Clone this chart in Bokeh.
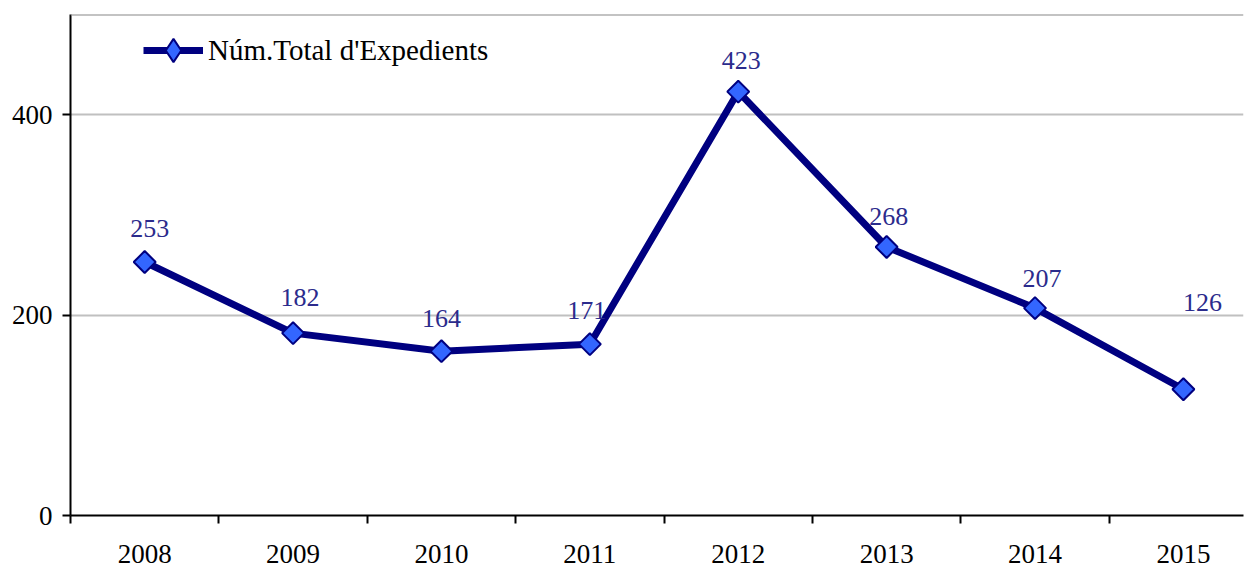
import numpy as np
from bokeh.plotting import figure
from bokeh.models import ColumnDataSource, FixedTicker, Span, Range1d, Legend, LegendItem
from bokeh.core.properties import value
from bokeh.embed import file_html
from bokeh.resources import INLINE

years = ["2008", "2009", "2010", "2011", "2012", "2013", "2014", "2015"]
totals = [253, 182, 164, 171, 423, 268, 207, 126]
series_name = "Núm.Total d'Expedients"
y_ticks = [0, 200, 400]

# label placement offsets in pixels (styling)
label_dx = [5, 7, 0, -3, 3, 2, 7, 19]
label_dy = [-33, -36, -33, -34, -31, -30, -30, -87]

FONT = "Liberation Serif"
LINE = "#000080"
FILL = "#3366FF"
TEXTC = "#2B2B8C"

xs = list(range(len(years)))
src = ColumnDataSource(dict(x=xs, y=totals, lab=[str(v) for v in totals],
                            dx=label_dx, dy=label_dy,
                            ang=[np.pi / 4] * len(years)))

p = figure(width=1244, height=568, output_backend="svg", toolbar_location=None,
           x_range=Range1d(-0.5, 7.405), y_range=Range1d(0, 500),
           min_border_left=70, min_border_right=1, min_border_top=14, min_border_bottom=53)
p.outline_line_color = None
p.background_fill_color = "white"
p.border_fill_color = "white"

line_r = p.line("x", "y", source=src, line_color=LINE, line_width=7)
p.scatter("x", "y", source=src, marker="square", angle="ang", size=15.5,
          fill_color=FILL, line_color=LINE, line_width=2)
# marker used only for the legend swatch (diamond shape)
leg_marker = p.scatter("x", "y", source=src, marker="diamond", size=22,
                       fill_color=FILL, line_color=LINE, line_width=2)
leg_marker.visible = False
p.text("x", "y", text="lab", source=src, x_offset="dx", y_offset="dy",
       text_align="center", text_baseline="middle", text_color=TEXTC,
       text_font=value(FONT), text_font_size="26px")

p.add_layout(Span(location=500, dimension="width", line_color="#888888", line_width=2))

# x axis
xa = p.xaxis[0]
boundaries = [i - 0.5 for i in range(len(years) + 1)]
xa.ticker = FixedTicker(ticks=xs, minor_ticks=boundaries)
xa.major_label_overrides = {i: y for i, y in enumerate(years)}
xa.major_tick_out = 0
xa.major_tick_in = 0
xa.minor_tick_out = 8
xa.minor_tick_in = 0
xa.minor_tick_line_color = "black"
xa.minor_tick_line_width = 2
xa.axis_line_color = "black"
xa.axis_line_width = 2
xa.major_label_standoff = 21
xa.major_label_text_font = FONT
xa.major_label_text_font_size = "27px"
xa.major_label_text_color = "black"

ya = p.yaxis[0]
ya.ticker = FixedTicker(ticks=y_ticks, minor_ticks=[])
ya.major_tick_out = 8
ya.major_tick_in = 0
ya.major_tick_line_color = "black"
ya.major_tick_line_width = 2
ya.axis_line_color = "black"
ya.axis_line_width = 2
ya.major_label_standoff = 10
ya.major_label_text_font = FONT
ya.major_label_text_font_size = "27px"
ya.major_label_text_color = "black"

p.xgrid.grid_line_color = None
p.ygrid.ticker = FixedTicker(ticks=[200, 400])
p.ygrid.grid_line_color = "#C0C0C0"
p.ygrid.grid_line_width = 2

leg = Legend(items=[LegendItem(label=series_name, renderers=[line_r, leg_marker])])
leg.location = (73, 436)
leg.margin = 0
leg.padding = 0
leg.glyph_width = 60
leg.glyph_height = 58
leg.label_height = 58
leg.label_standoff = 5
leg.background_fill_alpha = 0
leg.border_line_color = None
leg.label_text_font = FONT
leg.label_text_font_size = "29px"
leg.label_text_color = "black"
p.add_layout(leg)

open("out.html", "w").write(file_html(p, INLINE))
